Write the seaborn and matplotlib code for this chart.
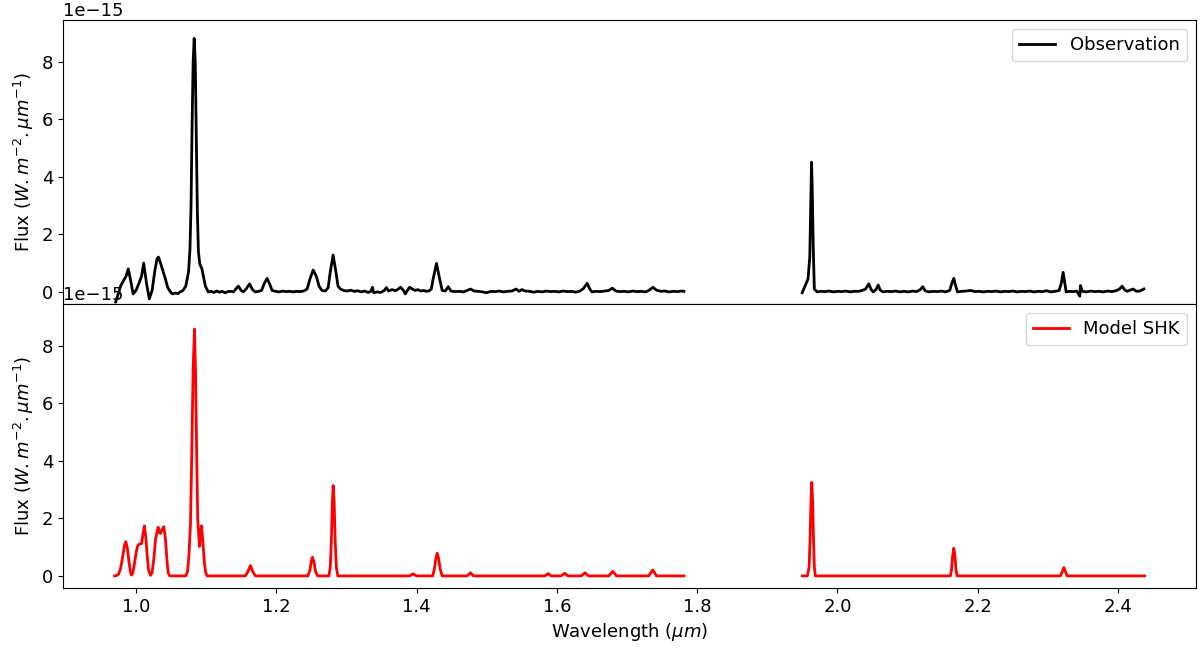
import numpy as np
import pandas as pd
import matplotlib
matplotlib.use('Agg')
import matplotlib.pyplot as plt
import seaborn as sns

# --- Data (flux in units of 1e-15 W m^-2 um^-1) ---

# Observation, J+H band segment
obs_x1 = [0.971, 0.975, 0.978, 0.982, 0.986, 0.989, 0.992, 0.996, 1.000, 1.004,
          1.008, 1.011, 1.015, 1.019, 1.023, 1.027, 1.030, 1.032, 1.035, 1.039,
          1.042, 1.045, 1.049, 1.052, 1.056, 1.060, 1.063, 1.067, 1.071, 1.075,
          1.077, 1.0785, 1.080, 1.0815, 1.083, 1.0845, 1.086, 1.0875, 1.089, 1.091,
          1.094, 1.097, 1.099, 1.103, 1.107, 1.111, 1.115, 1.119, 1.123, 1.127,
          1.131, 1.135, 1.139, 1.143, 1.146, 1.150, 1.153, 1.157, 1.162, 1.166,
          1.170, 1.175, 1.179, 1.183, 1.187, 1.191, 1.194, 1.199, 1.204, 1.209,
          1.214, 1.219, 1.224, 1.229, 1.234, 1.239, 1.244, 1.248, 1.2526, 1.257,
          1.261, 1.265, 1.270, 1.274, 1.277, 1.281, 1.285, 1.288, 1.2915, 1.296,
          1.301, 1.306, 1.311, 1.316, 1.321, 1.326, 1.331, 1.335, 1.337, 1.339,
          1.344, 1.349, 1.354, 1.357, 1.360, 1.365, 1.370, 1.374, 1.377, 1.381,
          1.384, 1.387, 1.390, 1.394, 1.398, 1.402, 1.406, 1.410, 1.414, 1.418,
          1.421, 1.424, 1.4284, 1.432, 1.4365, 1.441, 1.445, 1.449, 1.455, 1.461,
          1.467, 1.472, 1.477, 1.482, 1.488, 1.494, 1.500, 1.506, 1.512, 1.518,
          1.524, 1.530, 1.536, 1.542, 1.546, 1.550, 1.555, 1.561, 1.567, 1.573,
          1.579, 1.585, 1.591, 1.597, 1.603, 1.609, 1.615, 1.621, 1.627, 1.633,
          1.638, 1.643, 1.647, 1.650, 1.656, 1.662, 1.668, 1.674, 1.679, 1.684,
          1.690, 1.696, 1.702, 1.708, 1.714, 1.720, 1.726, 1.731, 1.737, 1.742,
          1.748, 1.754, 1.760, 1.766, 1.772, 1.778, 1.781]
obs_y1 = [-0.35, -0.05, 0.20, 0.38, 0.55, 0.80, 0.45, -0.07, 0.05, 0.28,
          0.55, 1.00, 0.30, -0.24, 0.05, 0.75, 1.15, 1.21, 1.00, 0.69,
          0.45, 0.17, 0.00, -0.07, -0.04, -0.06, 0.00, 0.05, 0.20, 0.70,
          1.50, 3.00, 5.80, 8.00, 8.81, 8.00, 5.50, 2.80, 1.40, 0.97,
          0.80, 0.45, 0.20, 0.00, 0.02, -0.02, 0.03, -0.01, 0.02, -0.03,
          0.01, 0.02, 0.00, 0.12, 0.20, 0.05, 0.00, 0.10, 0.28, 0.08,
          0.00, 0.02, 0.05, 0.30, 0.47, 0.25, 0.05, 0.02, 0.00, 0.03,
          0.01, 0.02, 0.00, 0.02, 0.01, 0.03, 0.10, 0.45, 0.76, 0.55,
          0.20, 0.05, 0.03, 0.15, 0.70, 1.28, 0.70, 0.20, 0.10, 0.05,
          0.03, 0.06, 0.02, 0.04, 0.00, 0.03, -0.02, 0.02, 0.16, -0.03,
          0.00, -0.02, 0.05, 0.15, 0.03, 0.08, 0.04, 0.10, 0.16, 0.06,
          -0.07, 0.05, 0.16, 0.10, 0.05, 0.08, 0.03, 0.05, 0.02, 0.04,
          0.10, 0.50, 0.99, 0.55, 0.05, 0.03, 0.18, 0.03, 0.01, 0.02,
          0.00, 0.05, 0.10, 0.03, 0.02, 0.00, -0.03, 0.02, 0.01, 0.03,
          0.00, 0.02, 0.03, 0.10, 0.02, 0.08, 0.03, 0.02, -0.01, 0.02,
          0.00, 0.03, 0.01, 0.02, 0.00, 0.03, 0.01, 0.02, -0.01, 0.03,
          0.12, 0.30, 0.10, 0.00, 0.02, 0.01, 0.03, 0.05, 0.13, 0.03,
          0.01, 0.02, 0.00, 0.03, 0.01, 0.02, 0.00, 0.05, 0.16, 0.06,
          0.02, 0.03, 0.00, 0.02, 0.01, 0.03, 0.02]

# Observation, K band segment
obs_x2 = [1.9497, 1.954, 1.958, 1.9605, 1.962, 1.963, 1.964, 1.9655, 1.967, 1.971,
          1.976, 1.982, 1.988, 1.994, 2.000, 2.006, 2.012, 2.018, 2.024, 2.030,
          2.035, 2.040, 2.0446, 2.048, 2.051, 2.055, 2.058, 2.061, 2.065, 2.071,
          2.077, 2.083, 2.089, 2.095, 2.101, 2.107, 2.113, 2.118, 2.1216, 2.125,
          2.130, 2.136, 2.142, 2.148, 2.154, 2.160, 2.163, 2.1658, 2.168, 2.171,
          2.177, 2.183, 2.190, 2.196, 2.202, 2.208, 2.214, 2.220, 2.226, 2.232,
          2.238, 2.244, 2.250, 2.256, 2.262, 2.268, 2.274, 2.280, 2.286, 2.292,
          2.298, 2.304, 2.310, 2.316, 2.319, 2.3217, 2.324, 2.326, 2.331, 2.336,
          2.341, 2.3454, 2.3464, 2.349, 2.355, 2.361, 2.367, 2.373, 2.379, 2.385,
          2.391, 2.397, 2.402, 2.4058, 2.409, 2.413, 2.417, 2.4215, 2.426, 2.431,
          2.4367]
obs_y2 = [-0.03, 0.22, 0.45, 1.20, 3.20, 4.51, 3.60, 1.50, 0.10, 0.00,
          0.02, 0.01, 0.03, 0.00, 0.02, 0.01, 0.03, 0.00, 0.02, 0.02,
          0.05, 0.10, 0.28, 0.08, 0.00, 0.08, 0.24, 0.06, 0.00, 0.02,
          0.01, 0.03, 0.00, 0.02, 0.00, 0.03, 0.01, 0.08, 0.18, 0.04,
          0.00, 0.02, 0.01, 0.03, 0.00, 0.05, 0.30, 0.47, 0.25, 0.00,
          0.02, 0.03, 0.05, 0.01, 0.02, 0.00, 0.02, 0.01, 0.03, 0.00,
          0.02, 0.01, 0.03, 0.00, 0.02, 0.01, 0.03, 0.00, 0.02, 0.01,
          0.04, 0.00, 0.02, 0.05, 0.30, 0.68, 0.30, 0.00, 0.02, 0.01,
          0.03, -0.15, 0.22, 0.02, 0.00, 0.03, 0.01, 0.02, 0.00, 0.03,
          0.01, 0.04, 0.10, 0.20, 0.08, 0.02, 0.06, 0.10, 0.02, 0.03,
          0.10]

# Model SHK, J+H band segment
mod_x1 = [0.9694, 0.972, 0.975, 0.978, 0.981, 0.9835, 0.9855, 0.9875, 0.990, 0.992,
          0.9936, 0.9955, 0.998, 1.0005, 1.0025, 1.005, 1.008, 1.010, 1.012, 1.014,
          1.016, 1.018, 1.0207, 1.023, 1.0255, 1.028, 1.0316, 1.0335, 1.035, 1.0375,
          1.0397, 1.042, 1.0445, 1.046, 1.048, 1.060, 1.071, 1.0735, 1.0755, 1.0777,
          1.0795, 1.0815, 1.0834, 1.085, 1.0865, 1.088, 1.0905, 1.092, 1.0934, 1.095,
          1.0976, 1.0995, 1.1015, 1.156, 1.159, 1.1632, 1.1665, 1.1703, 1.245, 1.248,
          1.250, 1.2516, 1.2535, 1.256, 1.259, 1.275, 1.277, 1.2785, 1.280, 1.2811,
          1.2825, 1.284, 1.2857, 1.2877, 1.390, 1.395, 1.400, 1.423, 1.4255, 1.4275,
          1.4294, 1.4315, 1.4335, 1.4365, 1.472, 1.4768, 1.481, 1.583, 1.5876, 1.592,
          1.606, 1.611, 1.616, 1.635, 1.640, 1.645, 1.674, 1.6797, 1.685, 1.731,
          1.7367, 1.742, 1.781]
mod_y1 = [0.00, 0.01, 0.05, 0.25, 0.65, 1.05, 1.19, 1.00, 0.50, 0.15,
          0.03, 0.10, 0.45, 0.85, 1.05, 1.11, 1.12, 1.45, 1.74, 1.35,
          0.70, 0.20, 0.02, 0.12, 0.60, 1.30, 1.69, 1.50, 1.48, 1.62,
          1.71, 1.30, 0.44, 0.10, 0.00, 0.00, 0.00, 0.15, 0.70, 1.80,
          4.20, 7.20, 8.58, 7.00, 4.30, 2.00, 1.02, 1.50, 1.74, 1.30,
          0.44, 0.10, 0.00, 0.00, 0.12, 0.36, 0.15, 0.00, 0.00, 0.20,
          0.52, 0.65, 0.50, 0.15, 0.00, 0.00, 0.30, 1.20, 2.60, 3.14,
          2.60, 1.20, 0.30, 0.00, 0.00, 0.07, 0.00, 0.00, 0.25, 0.60,
          0.79, 0.60, 0.25, 0.00, 0.00, 0.11, 0.00, 0.00, 0.08, 0.00,
          0.00, 0.09, 0.00, 0.00, 0.11, 0.00, 0.00, 0.16, 0.00, 0.00,
          0.21, 0.00, 0.00]

# Model SHK, K band segment
mod_x2 = [1.9497, 1.957, 1.9595, 1.961, 1.9622, 1.9634, 1.9646, 1.9658, 1.967, 1.9685,
          2.161, 2.1625, 2.1642, 2.1658, 2.1674, 2.169, 2.1706, 2.3178, 2.3205, 2.3226,
          2.325, 2.3273, 2.4377]
mod_y2 = [0.00, 0.00, 0.30, 1.30, 2.60, 3.25, 2.60, 1.30, 0.30, 0.00,
          0.00, 0.20, 0.70, 0.96, 0.70, 0.20, 0.00, 0.00, 0.15, 0.29,
          0.15, 0.00, 0.00]

scale = 1e-15

obs1 = pd.DataFrame({'wl': obs_x1, 'flux': np.array(obs_y1) * scale})
obs2 = pd.DataFrame({'wl': obs_x2, 'flux': np.array(obs_y2) * scale})
mod1 = pd.DataFrame({'wl': mod_x1, 'flux': np.array(mod_y1) * scale})
mod2 = pd.DataFrame({'wl': mod_x2, 'flux': np.array(mod_y2) * scale})

# --- Plot ---
plt.rcParams['font.size'] = 13

fig, (ax1, ax2) = plt.subplots(2, 1, sharex=True, sharey=True, figsize=(12, 6.55), dpi=100)
fig.subplots_adjust(left=0.0525, right=0.9967, top=0.9695, bottom=0.1023, hspace=0)

lw = 2
sns.lineplot(data=obs1, x='wl', y='flux', color='black', linewidth=lw, label='Observation', ax=ax1)
sns.lineplot(data=obs2, x='wl', y='flux', color='black', linewidth=lw, ax=ax1)
sns.lineplot(data=mod1, x='wl', y='flux', color='red', linewidth=lw, label='Model SHK', ax=ax2)
sns.lineplot(data=mod2, x='wl', y='flux', color='red', linewidth=lw, ax=ax2)

ax1.set_ylim(-0.42e-15, 9.45e-15)
ylab = r'Flux ($W.m^{-2}.\mu m^{-1}$)'
ax1.set_ylabel(ylab)
ax2.set_ylabel(ylab)
ax1.set_xlabel('')
ax2.set_xlabel(r'Wavelength ($\mu m$)')

ax1.legend(loc='upper right')
ax2.legend(loc='upper right')

plt.savefig('out.png', dpi=100)
plt.close()
